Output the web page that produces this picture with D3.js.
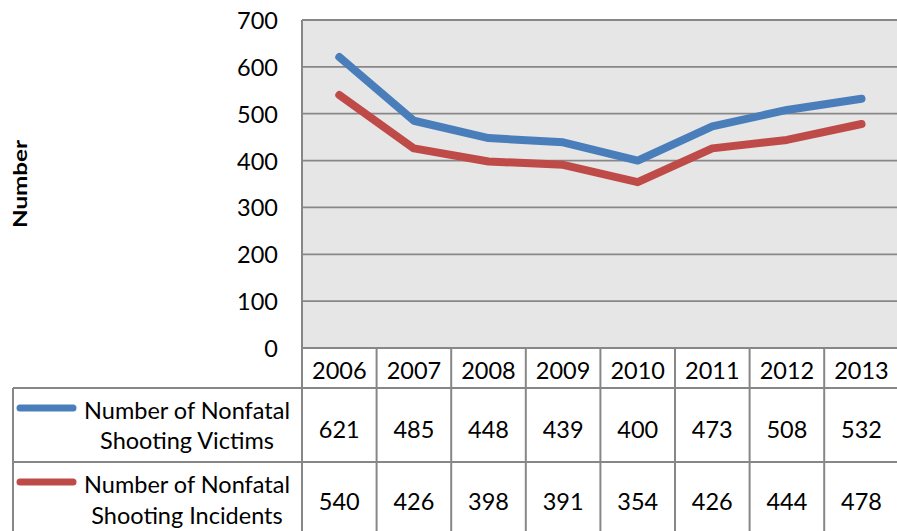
<!DOCTYPE html>
<html>
<head>
<meta charset="utf-8">
<script src="https://cdn.jsdelivr.net/npm/d3@7"></script>
<style>
  html, body { margin: 0; padding: 0; background: #fff; }
  svg { display: block; }
  text { font-family: Lato, "Open Sans", sans-serif; fill: #000; }
</style>
</head>
<body>
<svg id="chart" width="897" height="531"></svg>
<script>
const years = ["2006", "2007", "2008", "2009", "2010", "2011", "2012", "2013"];
const victims = [621, 485, 448, 439, 400, 473, 508, 532];
const incidents = [540, 426, 398, 391, 354, 426, 444, 478];
const yTicks = [0, 100, 200, 300, 400, 500, 600, 700];
const seriesNames = [["Number of Nonfatal", "Shooting Victims"], ["Number of Nonfatal", "Shooting Incidents"]];
const seriesColors = ["#4A7EBB", "#BE4B48"];

const series = [
  { name: seriesNames[0], values: victims, color: seriesColors[0] },
  { name: seriesNames[1], values: incidents, color: seriesColors[1] }
];

const FS = 23.5;
const svg = d3.select("#chart");
const plotLeft = 302, plotTop = 20, plotBottom = 348;
const colW = 74.6;
const x = d3.scaleBand().domain(years).range([plotLeft, plotLeft + colW * years.length]).padding(0);
const y = d3.scaleLinear().domain([0, 700]).range([plotBottom, plotTop]);
const gridColor = "#878787";

// plot background
svg.append("rect").attr("x", plotLeft).attr("y", plotTop)
  .attr("width", x.range()[1] - plotLeft).attr("height", plotBottom - plotTop)
  .attr("fill", "#E6E6E6");

// gridlines
svg.append("g").selectAll("line").data(yTicks).join("line")
  .attr("x1", plotLeft).attr("x2", x.range()[1])
  .attr("y1", d => y(d)).attr("y2", d => y(d))
  .attr("stroke", gridColor).attr("stroke-width", 1.8);

// left axis line
svg.append("line").attr("x1", plotLeft).attr("x2", plotLeft)
  .attr("y1", plotTop).attr("y2", 531).attr("stroke", gridColor).attr("stroke-width", 2);

// y tick labels via axis
const yAxis = d3.axisLeft(y).tickValues(yTicks).tickSize(0).tickPadding(0);
const gy = svg.append("g").attr("transform", "translate(278,0)").call(yAxis);
gy.select(".domain").remove();
gy.selectAll("text").attr("font-size", FS).attr("font-family", "Lato, sans-serif").attr("dy", "0.36em").attr("fill", "#000");

// y axis title
svg.append("text").attr("transform", "translate(27,184) rotate(-90)")
  .attr("text-anchor", "middle").attr("font-weight", "bold").attr("font-size", 18)
  .attr("textLength", 88).attr("lengthAdjust", "spacingAndGlyphs")
  .text("Number");

// lines
const line = d3.line().x((d, i) => x(years[i]) + x.bandwidth() / 2).y(d => y(d));
svg.append("g").selectAll("path").data(series).join("path")
  .attr("d", d => line(d.values))
  .attr("fill", "none").attr("stroke", d => d.color).attr("stroke-width", 8)
  .attr("stroke-linecap", "round").attr("stroke-linejoin", "round");

// data table
const rowTops = [388, 462];
const rowH = 74;
const tableLeft = 13;
const tbl = svg.append("g");
tbl.selectAll("line.col").data(years).join("line")
  .attr("class", "col")
  .attr("x1", (d, i) => plotLeft + colW * (i + 1)).attr("x2", (d, i) => plotLeft + colW * (i + 1))
  .attr("y1", plotBottom).attr("y2", 531)
  .attr("stroke", gridColor).attr("stroke-width", 2);
rowTops.forEach(yy => {
  tbl.append("line").attr("x1", tableLeft).attr("x2", x.range()[1]).attr("y1", yy).attr("y2", yy)
    .attr("stroke", gridColor).attr("stroke-width", 2);
});
tbl.append("line").attr("x1", tableLeft).attr("x2", tableLeft).attr("y1", 388).attr("y2", 531)
  .attr("stroke", gridColor).attr("stroke-width", 2);

// year labels
tbl.selectAll("text.year").data(years).join("text").attr("class", "year")
  .attr("x", d => x(d) + x.bandwidth() / 2).attr("y", 371).attr("dy", "0.36em")
  .attr("text-anchor", "middle").attr("font-size", FS).text(d => d);

// values and legend keys
const valueY = [430, 502];
const nameY = [[411, 441], [485, 516]];
series.forEach((s, si) => {
  tbl.selectAll("text.v" + si).data(s.values).join("text").attr("class", "v" + si)
    .attr("x", (d, i) => x(years[i]) + x.bandwidth() / 2).attr("y", valueY[si]).attr("dy", "0.36em")
    .attr("text-anchor", "middle").attr("font-size", FS).text(d => d);
  const ly = rowTops[si] + 20;
  tbl.append("line").attr("x1", 20).attr("x2", 73).attr("y1", ly).attr("y2", ly)
    .attr("stroke", s.color).attr("stroke-width", 7).attr("stroke-linecap", "round");
  tbl.append("text").attr("x", 187).attr("y", nameY[si][0]).attr("dy", "0.36em")
    .attr("text-anchor", "middle").attr("font-size", FS).text(s.name[0]);
  tbl.append("text").attr("x", 187).attr("y", nameY[si][1]).attr("dy", "0.36em")
    .attr("text-anchor", "middle").attr("font-size", FS).text(s.name[1]);
});
</script>
</body>
</html>
